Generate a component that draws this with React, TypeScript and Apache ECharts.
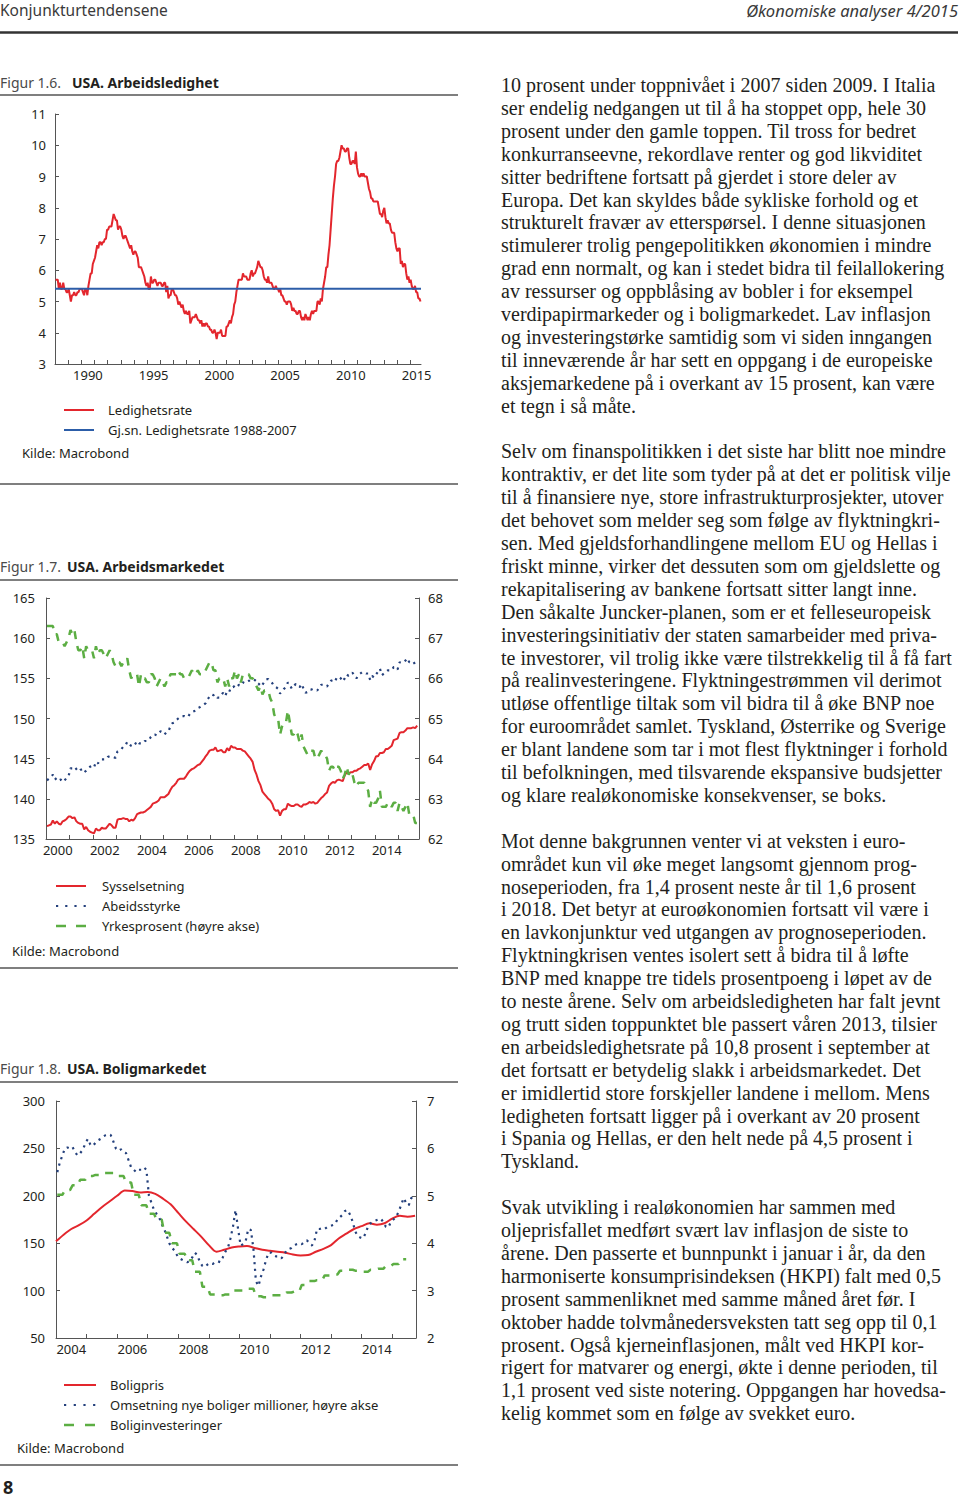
import React, { useEffect, useRef } from "react";
import * as echarts from "echarts";

const FONT = "'Noto Sans', sans-serif";
const SERIF = "'Liberation Serif', serif";
const TXT = "#231f20";
const AXIS = "#555555";
const RED = "#e3262d";
const BLUE = "#2c5da8";
const NAVY = "#24407c";
const GREEN = "#5cae43";
const DOTTED = [2.2, 4.5];
const DASHED = [8, 7];

// ---------- Figur 1.6 ----------
const unempStart = 1988;
const unempRate = [
  5.7, 5.7, 5.7, 5.4, 5.6, 5.4, 5.4, 5.6, 5.4, 5.4, 5.3, 5.3,
  5.4, 5.2, 5.0, 5.2, 5.2, 5.3, 5.2, 5.2, 5.3, 5.3, 5.4, 5.4,
  5.4, 5.3, 5.2, 5.4, 5.4, 5.2, 5.5, 5.7, 5.9, 5.9, 6.2, 6.3,
  6.4, 6.6, 6.8, 6.7, 6.9, 6.9, 6.8, 6.9, 6.9, 7.0, 7.0, 7.3,
  7.3, 7.4, 7.4, 7.4, 7.6, 7.8, 7.7, 7.6, 7.6, 7.3, 7.4, 7.4,
  7.3, 7.1, 7.0, 7.1, 7.1, 7.0, 6.9, 6.8, 6.7, 6.8, 6.6, 6.5,
  6.6, 6.6, 6.5, 6.4, 6.1, 6.1, 6.1, 6.0, 5.9, 5.8, 5.6, 5.5,
  5.6, 5.4, 5.4, 5.8, 5.6, 5.6, 5.7, 5.7, 5.6, 5.5, 5.6, 5.6,
  5.6, 5.5, 5.5, 5.6, 5.6, 5.3, 5.5, 5.1, 5.2, 5.2, 5.4, 5.4,
  5.3, 5.2, 5.2, 5.1, 4.9, 5.0, 4.9, 4.8, 4.9, 4.7, 4.6, 4.7,
  4.6, 4.6, 4.7, 4.3, 4.4, 4.5, 4.5, 4.5, 4.6, 4.5, 4.4, 4.4,
  4.3, 4.4, 4.2, 4.3, 4.2, 4.3, 4.3, 4.2, 4.2, 4.1, 4.1, 4.0,
  4.0, 4.1, 4.0, 3.8, 4.0, 4.0, 4.0, 4.1, 3.9, 3.9, 3.9, 3.9,
  4.2, 4.2, 4.3, 4.4, 4.3, 4.5, 4.6, 4.9, 5.0, 5.3, 5.5, 5.7,
  5.7, 5.7, 5.7, 5.9, 5.8, 5.8, 5.8, 5.7, 5.7, 5.7, 5.9, 6.0,
  5.8, 5.9, 5.9, 6.0, 6.1, 6.3, 6.2, 6.1, 6.1, 6.0, 5.8, 5.7,
  5.7, 5.6, 5.8, 5.6, 5.6, 5.6, 5.5, 5.4, 5.4, 5.5, 5.4, 5.4,
  5.3, 5.4, 5.2, 5.2, 5.1, 5.0, 5.0, 4.9, 5.0, 5.0, 5.0, 4.9,
  4.7, 4.8, 4.7, 4.7, 4.6, 4.6, 4.7, 4.7, 4.5, 4.4, 4.5, 4.4,
  4.6, 4.5, 4.4, 4.5, 4.4, 4.6, 4.7, 4.6, 4.7, 4.7, 4.7, 5.0,
  5.0, 4.9, 5.1, 5.0, 5.4, 5.6, 5.8, 6.1, 6.1, 6.5, 6.8, 7.3,
  7.8, 8.3, 8.7, 9.0, 9.4, 9.5, 9.5, 9.6, 9.8, 10.0, 9.9, 9.9,
  9.8, 9.8, 9.9, 9.9, 9.6, 9.4, 9.4, 9.5, 9.5, 9.4, 9.8, 9.3,
  9.1, 9.0, 9.0, 9.1, 9.0, 9.1, 9.0, 9.0, 9.0, 8.8, 8.6, 8.5,
  8.3, 8.3, 8.2, 8.2, 8.2, 8.2, 8.2, 8.0, 7.8, 7.8, 7.7, 7.9,
  8.0, 7.7, 7.5, 7.6, 7.5, 7.5, 7.3, 7.2, 7.2, 7.2, 6.9, 6.7,
  6.6, 6.7, 6.7, 6.2, 6.3, 6.1, 6.2, 6.2, 5.9, 5.7, 5.8, 5.6,
  5.7, 5.5, 5.4, 5.4, 5.5, 5.3, 5.3, 5.1, 5.1, 5.0,
];
const unempAvg = 5.41;
const fig16XLabels = [1990, 1995, 2000, 2005, 2010, 2015];

// ---------- Figur 1.7 ----------
const labourStart = 2000;
const employment = [
  136.6, 136.7, 136.8, 137.3, 136.9, 137.2, 136.9, 136.8, 137.2, 137.3, 137.5, 137.8,
  137.8, 137.6, 137.7, 137.2, 137.0, 136.9, 136.9, 136.2, 136.5, 136.1, 135.9, 135.8,
  135.7, 136.3, 136.1, 136.1, 136.4, 136.3, 136.3, 136.6, 136.9, 136.7, 136.4, 136.4,
  137.4, 137.5, 137.5, 137.6, 137.5, 137.5, 137.2, 137.4, 137.3, 137.6, 138.1, 138.2,
  138.3, 138.3, 138.4, 138.6, 138.8, 139.0, 139.4, 139.5, 139.6, 139.8, 140.2, 140.2,
  140.2, 140.4, 140.6, 141.1, 141.5, 141.7, 142.0, 142.4, 142.5, 142.5, 142.5, 142.8,
  143.2, 143.5, 143.7, 143.8, 144.0, 144.2, 144.3, 144.6, 144.9, 145.3, 145.6, 146.0,
  146.1, 146.1, 146.4, 145.9, 146.0, 146.1, 145.8, 145.8, 146.3, 146.0, 146.6, 146.4,
  146.4, 146.2, 146.2, 146.2, 146.0, 145.9, 145.6, 145.3, 145.0, 144.6, 143.6, 143.0,
  142.2, 141.7, 140.9, 140.6, 140.3, 140.0, 139.8, 139.4, 138.7, 138.5, 138.6, 137.9,
  138.5, 138.7, 138.7, 139.4, 139.2, 139.1, 139.1, 139.3, 139.3, 139.1, 139.0, 139.3,
  139.3, 139.4, 139.6, 139.5, 139.6, 139.4, 139.5, 139.8, 140.1, 140.3, 140.6, 140.8,
  141.6, 141.9, 142.1, 142.0, 142.3, 142.4, 142.3, 142.2, 142.9, 143.3, 143.2, 143.3,
  143.3, 143.5, 143.5, 143.7, 143.8, 144.0, 144.2, 144.2, 144.4, 143.6, 144.3, 144.7,
  145.3, 145.3, 145.7, 145.7, 145.8, 146.2, 146.2, 146.4, 146.6, 147.3, 147.4, 147.5,
  148.2, 148.3, 148.3, 148.5, 148.8, 148.8, 148.8, 148.9, 148.8, 149.1,
];
const labourForce = [
  142.3, 142.5, 142.7, 143.0, 142.4, 142.6, 142.3, 142.4, 142.1, 142.3, 142.6, 142.8,
  143.8, 143.8, 144.0, 143.7, 143.4, 143.6, 143.7, 143.3, 143.5, 143.8, 144.0, 144.1,
  143.9, 144.6, 144.4, 144.8, 144.9, 144.9, 144.9, 145.2, 145.3, 145.3, 145.2, 145.1,
  145.9, 146.0, 146.2, 146.5, 146.6, 147.1, 146.8, 146.6, 146.5, 146.8, 147.2, 146.9,
  146.9, 146.9, 147.2, 147.2, 147.3, 147.7, 148.0, 148.0, 147.9, 148.2, 148.4, 148.3,
  148.0, 148.3, 148.4, 149.0, 149.4, 149.5, 149.8, 150.0, 150.2, 150.3, 150.3, 150.2,
  150.2, 150.6, 150.8, 150.9, 151.0, 151.3, 151.4, 151.6, 151.7, 151.9, 152.4, 152.7,
  153.0, 152.9, 153.0, 152.6, 152.6, 153.0, 153.2, 152.8, 153.4, 153.3, 153.9, 153.9,
  154.1, 153.9, 154.2, 154.1, 154.5, 154.4, 154.6, 154.7, 154.7, 154.9, 154.8, 154.6,
  154.2, 154.5, 154.2, 154.6, 154.9, 154.9, 154.6, 154.4, 154.0, 153.9, 153.7, 153.1,
  153.4, 153.7, 153.9, 154.5, 154.2, 153.7, 154.0, 154.3, 154.1, 153.9, 154.3, 153.7,
  153.2, 153.3, 153.6, 153.6, 153.7, 153.6, 153.5, 153.8, 154.2, 154.2, 154.0, 154.0,
  154.4, 154.7, 154.8, 154.6, 155.1, 155.2, 155.0, 154.6, 155.0, 155.5, 155.3, 155.5,
  155.7, 155.3, 155.0, 155.4, 155.6, 155.8, 155.7, 155.6, 155.6, 154.8, 155.3, 155.1,
  155.5, 155.8, 156.2, 155.4, 155.6, 155.8, 156.0, 156.0, 156.0, 156.4, 156.4, 156.1,
  157.0, 156.9, 157.0, 157.2, 157.5, 157.0, 157.1, 157.1, 156.7, 156.8,
];
const participation = [
  67.3, 67.3, 67.3, 67.3, 67.1, 67.1, 66.9, 66.9, 66.9, 66.8, 66.9, 67.0,
  67.2, 67.1, 67.2, 66.9, 66.7, 66.7, 66.8, 66.5, 66.8, 66.7, 66.7, 66.7,
  66.5, 66.8, 66.6, 66.7, 66.7, 66.6, 66.5, 66.6, 66.7, 66.6, 66.4, 66.3,
  66.4, 66.4, 66.3, 66.4, 66.4, 66.5, 66.2, 66.0, 66.1, 66.1, 66.1, 65.8,
  66.1, 66.0, 66.0, 65.9, 65.9, 66.1, 66.1, 66.0, 65.8, 65.9, 66.0, 65.9,
  65.8, 65.9, 65.9, 66.1, 66.1, 66.1, 66.1, 66.2, 66.1, 66.1, 66.0, 66.0,
  66.0, 66.1, 66.2, 66.1, 66.1, 66.2, 66.1, 66.1, 66.1, 66.2, 66.3, 66.4,
  66.4, 66.2, 66.2, 65.9, 66.0, 66.0, 66.0, 65.8, 66.0, 65.8, 66.0, 66.0,
  66.2, 66.0, 66.1, 65.9, 66.1, 66.1, 66.1, 66.1, 66.0, 66.0, 65.9, 65.8,
  65.7, 65.8, 65.6, 65.7, 65.7, 65.7, 65.5, 65.4, 65.1, 65.0, 65.0, 64.6,
  64.8, 64.9, 64.9, 65.2, 64.9, 64.6, 64.6, 64.7, 64.6, 64.4, 64.6, 64.3,
  64.2, 64.1, 64.2, 64.2, 64.2, 64.0, 64.0, 64.1, 64.2, 64.1, 64.1, 64.0,
  63.7, 63.8, 63.8, 63.7, 63.8, 63.8, 63.7, 63.5, 63.6, 63.8, 63.6, 63.7,
  63.6, 63.4, 63.3, 63.4, 63.4, 63.4, 63.4, 63.3, 63.2, 62.8, 63.0, 62.9,
  62.9, 63.0, 63.2, 62.8, 62.8, 62.8, 62.9, 62.9, 62.8, 62.9, 62.9, 62.7,
  62.9, 62.8, 62.7, 62.8, 62.9, 62.6, 62.6, 62.6, 62.4, 62.4,
];
const fig17XLabels = [2000, 2002, 2004, 2006, 2008, 2010, 2012, 2014];

// ---------- Figur 1.8 ----------
const houseStart = 2004;
const housePriceQ = [
  152, 159, 165, 169, 174, 181, 188, 194, 200, 205.5, 205, 203.5,
  204, 202, 197, 191, 182, 173, 165, 157, 148, 141, 143, 145.5,
  146.5, 147, 145, 143, 142, 141, 140, 138, 137, 137.5, 141, 144,
  148, 155, 160, 165, 168, 171, 169.5, 171, 176, 179, 178, 179,
];
const homeSales = [
  5.5, 5.7, 5.85, 6.0, 6.02, 6.0, 6.03, 5.92, 5.85, 5.9, 5.97, 6.1,
  6.2, 6.08, 6.05, 6.12, 6.17, 6.2, 6.25, 6.28, 6.3, 6.28, 6.15, 6.0,
  5.95, 5.98, 5.92, 5.9, 5.75, 5.6, 5.55, 5.5, 5.55, 5.55, 5.6, 5.55,
  5.0, 4.85, 4.7, 4.62, 4.55, 4.4, 4.3, 4.15, 4.0, 3.9, 3.85, 3.75,
  3.68, 3.65, 3.62, 3.6, 3.62, 3.7, 3.8, 3.75, 3.6, 3.52, 3.5, 3.55,
  3.58, 3.56, 3.6, 3.62, 3.6, 3.7, 3.82, 3.9, 4.1, 4.35, 4.7, 4.3,
  3.95, 3.98, 4.05, 4.3, 4.28, 3.9, 3.2, 3.1, 3.3, 3.45, 3.65, 3.8,
  3.8, 3.74, 3.72, 3.72, 3.68, 3.75, 3.85, 3.88, 3.9, 3.95, 3.98, 4.0,
  3.98, 4.02, 4.06, 4.0, 3.95, 4.05, 4.3, 4.3, 4.32, 4.3, 4.34, 4.36,
  4.38, 4.4, 4.5, 4.55, 4.6, 4.68, 4.7, 4.6, 4.45, 4.25, 4.15, 4.12,
  4.1, 4.2, 4.35, 4.42, 4.46, 4.48, 4.5, 4.52, 4.45, 4.35, 4.33, 4.45,
  4.5, 4.55, 4.66, 4.8, 4.95, 4.85, 4.8, 4.95, 5.0,
];
const resInvestQ = [
  201, 206, 211, 217, 221, 222, 224, 224, 221, 214, 201, 190,
  181, 175, 161, 150, 139, 132, 120, 104, 96, 95, 96, 100,
  100, 102, 94, 93, 95, 95, 98, 99, 106, 110, 111, 116,
  117, 121, 122, 121, 120, 122, 123, 126, 128, 133,
];
const fig18XLabels = [2004, 2006, 2008, 2010, 2012, 2014];

// ---------- Legender ----------
const fig16Legend = ["Ledighetsrate", "Gj.sn. Ledighetsrate 1988-2007"];
const fig17Legend = ["Sysselsetning", "Abeidsstyrke", "Yrkesprosent (høyre akse)"];
const fig18Legend = ["Boligpris", "Omsetning nye boliger millioner, høyre akse", "Boliginvesteringer"];

// ---------- Brødtekst ----------
const bodyLines = [
  "10 prosent under toppnivået i 2007 siden 2009. I Italia",
  "ser endelig nedgangen ut til å ha stoppet opp, hele 30",
  "prosent under den gamle toppen. Til tross for bedret",
  "konkurranseevne, rekordlave renter og god likviditet",
  "sitter bedriftene fortsatt på gjerdet i store deler av",
  "Europa. Det kan skyldes både sykliske forhold og et",
  "strukturelt fravær av etterspørsel. I denne situasjonen",
  "stimulerer trolig pengepolitikken økonomien i mindre",
  "grad enn normalt, og kan i stedet bidra til feilallokering",
  "av ressurser og oppblåsing av bobler i for eksempel",
  "verdipapirmarkeder og i boligmarkedet. Lav inflasjon",
  "og investeringstørke samtidig som vi siden inngangen",
  "til inneværende år har sett en oppgang i de europeiske",
  "aksjemarkedene på i overkant av 15 prosent, kan være",
  "et tegn i så måte.",
  "",
  "Selv om finanspolitikken i det siste har blitt noe mindre",
  "kontraktiv, er det lite som tyder på at det er politisk vilje",
  "til å finansiere nye, store infrastrukturprosjekter, utover",
  "det behovet som melder seg som følge av flyktningkri-",
  "sen. Med gjeldsforhandlingene mellom EU og Hellas i",
  "friskt minne, virker det dessuten som om gjeldslette og",
  "rekapitalisering av bankene fortsatt sitter langt inne.",
  "Den såkalte Juncker-planen, som er et felleseuropeisk",
  "investeringsinitiativ der staten samarbeider med priva-",
  "te investorer, vil trolig ikke være tilstrekkelig til å få fart",
  "på realinvesteringene. Flyktningestrømmen vil derimot",
  "utløse offentlige tiltak som vil bidra til å øke BNP noe",
  "for euroområdet samlet. Tyskland, Østerrike og Sverige",
  "er blant landene som tar i mot flest flyktninger i forhold",
  "til befolkningen, med tilsvarende ekspansive budsjetter",
  "og klare realøkonomiske konsekvenser, se boks.",
  "",
  "Mot denne bakgrunnen venter vi at veksten i euro-",
  "området kun vil øke meget langsomt gjennom prog-",
  "noseperioden, fra 1,4 prosent neste år til 1,6 prosent",
  "i 2018. Det betyr at euroøkonomien fortsatt vil være i",
  "en lavkonjunktur ved utgangen av prognoseperioden.",
  "Flyktningkrisen ventes isolert sett å bidra til å løfte",
  "BNP med knappe tre tidels prosentpoeng i løpet av de",
  "to neste årene. Selv om arbeidsledigheten har falt jevnt",
  "og trutt siden toppunktet ble passert våren 2013, tilsier",
  "en arbeidsledighetsrate på 10,8 prosent i september at",
  "det fortsatt er betydelig slakk i arbeidsmarkedet. Det",
  "er imidlertid store forskjeller landene i mellom. Mens",
  "ledigheten fortsatt ligger på i overkant av 20 prosent",
  "i Spania og Hellas, er den helt nede på 4,5 prosent i",
  "Tyskland.",
  "",
  "Svak utvikling i realøkonomien har sammen med",
  "oljeprisfallet medført svært lav inflasjon de siste to",
  "årene. Den passerte et bunnpunkt i januar i år, da den",
  "harmoniserte konsumprisindeksen (HKPI) falt med 0,5",
  "prosent sammenliknet med samme måned året før. I",
  "oktober hadde tolvmånedersveksten tatt seg opp til 0,1",
  "prosent. Også kjerneinflasjonen, målt ved HKPI kor-",
  "rigert for matvarer og energi, økte i denne perioden, til",
  "1,1 prosent ved siste notering. Oppgangen har hovedsa-",
  "kelig kommet som en følge av svekket euro.",
];

// ---------- helpers ----------
const monthly = (start: number, vals: number[]) =>
  vals.map((v, i) => [start + (i + 0.5) / 12, v]);
const quarterlyAsMonths = (start: number, vals: number[]) =>
  vals.flatMap((v, q) => [0, 1, 2].map((j) => [start + (3 * q + j + 0.5) / 12, v]));
const intsBetween = (a: number, b: number) => {
  const out: number[] = [];
  for (let y = a; y <= b; y++) out.push(y);
  return out;
};

function xAxisCfg(grid: number, min: number, max: number, labels: number[]) {
  return {
    type: "value",
    gridIndex: grid,
    min,
    max,
    axisLine: { show: true, onZero: false, lineStyle: { color: AXIS, width: 1 } },
    axisTick: {
      show: true,
      inside: true,
      length: 4,
      lineStyle: { color: AXIS, width: 1 },
      customValues: intsBetween(Math.ceil(min), Math.floor(max)),
    },
    axisLabel: {
      customValues: labels.map((l) => l + 0.5),
      formatter: (v: number) => String(Math.floor(v)),
      fontSize: 13,
      color: TXT,
      fontFamily: FONT,
      margin: 4,
    },
    splitLine: { show: false },
  };
}

function yAxisCfg(
  grid: number,
  min: number,
  max: number,
  interval: number,
  position: string,
  margin: number
) {
  return {
    type: "value",
    gridIndex: grid,
    min,
    max,
    interval,
    position,
    axisLine: { show: true, onZero: false, lineStyle: { color: AXIS, width: 1 } },
    axisTick: { show: true, inside: true, length: 4, lineStyle: { color: AXIS, width: 1 } },
    axisLabel: { fontSize: 13, color: TXT, fontFamily: FONT, margin },
    splitLine: { show: false },
  };
}

const txt = (
  x: number,
  y: number,
  text: string,
  opts: { size?: number; weight?: string; italic?: boolean; align?: string; fill?: string; family?: string } = {}
) => ({
  type: "text",
  x,
  y,
  silent: true,
  style: {
    text,
    fontSize: opts.size ?? 13,
    fontWeight: opts.weight ?? "normal",
    fontStyle: opts.italic ? "italic" : "normal",
    fontFamily: opts.family ?? FONT,
    fill: opts.fill ?? TXT,
    align: opts.align ?? "left",
    verticalAlign: "middle",
    textAlign: opts.align ?? "left",
    textVerticalAlign: "middle",
  },
});

const hline = (x1: number, x2: number, y: number, h: number, fill: string) => ({
  type: "rect",
  silent: true,
  shape: { x: x1, y: y - h / 2, width: x2 - x1, height: h },
  style: { fill },
});

const legendKey = (x1: number, x2: number, y: number, color: string, width: number, dash?: number[]) => ({
  type: "line",
  silent: true,
  shape: { x1, y1: y, x2, y2: y },
  style: { stroke: color, lineWidth: width, lineDash: dash ?? null, fill: null },
});

export default function App() {
  const ref = useRef<HTMLDivElement>(null);

  useEffect(() => {
    if (!ref.current) return;
    const chart = echarts.init(ref.current, undefined, { renderer: "svg" });

    const graphics: any[] = [
      txt(0, 10, "Konjunkturtendensene", { size: 15.5, fill: "#3a3a3a" }),
      txt(958, 10, "Økonomiske analyser 4/2015", { size: 16.5, italic: true, align: "right", fill: "#3a3a3a" }),
      hline(0, 958, 32.5, 2.5, "#333333"),

      txt(0, 82, "Figur 1.6.", { size: 14, fill: "#4a4a4a" }),
      txt(72, 82, "USA. Arbeidsledighet", { size: 14, weight: "bold" }),
      hline(0, 458, 95, 1.5, "#555555"),
      legendKey(64, 94, 410, RED, 2),
      legendKey(64, 94, 430, BLUE, 2),
      txt(108, 410, fig16Legend[0]),
      txt(108, 430, fig16Legend[1]),
      txt(22, 453, "Kilde: Macrobond", { size: 13 }),
      hline(0, 458, 484, 1.5, "#555555"),

      txt(0, 566, "Figur 1.7.", { size: 14, fill: "#4a4a4a" }),
      txt(67, 566, "USA. Arbeidsmarkedet", { size: 14, weight: "bold" }),
      hline(0, 458, 580, 1.5, "#555555"),
      legendKey(56, 86, 886, RED, 2),
      legendKey(56, 86, 906, NAVY, 2.2, [2.2, 7]),
      legendKey(56, 86, 926, GREEN, 2.5, [10, 10]),
      txt(102, 886, fig17Legend[0]),
      txt(102, 906, fig17Legend[1]),
      txt(102, 926, fig17Legend[2]),
      txt(12, 951, "Kilde: Macrobond", { size: 13 }),
      hline(0, 458, 968, 1.5, "#555555"),

      txt(0, 1068, "Figur 1.8.", { size: 14, fill: "#4a4a4a" }),
      txt(67, 1068, "USA. Boligmarkedet", { size: 14, weight: "bold" }),
      hline(0, 458, 1082, 1.5, "#555555"),
      legendKey(64, 96, 1385, RED, 2),
      legendKey(64, 96, 1405, NAVY, 2.2, [2.2, 7.5]),
      legendKey(64, 96, 1425, GREEN, 2.5, [10, 11]),
      txt(110, 1385, fig18Legend[0]),
      txt(110, 1405, fig18Legend[1]),
      txt(110, 1425, fig18Legend[2]),
      txt(17, 1448, "Kilde: Macrobond", { size: 13 }),
      hline(0, 458, 1465, 1.5, "#555555"),

      txt(3, 1487, "8", { size: 18, weight: "bold" }),
    ];
    bodyLines.forEach((line, i) => {
      if (line) graphics.push(txt(501, 85 + 22.9 * i, line, { size: 20, family: SERIF }));
    });

    const option: any = {
      animation: false,
      backgroundColor: "#ffffff",
      grid: [
        { left: 55, top: 114, width: 366, height: 250, containLabel: false, outerBoundsMode: "none" },
        { left: 46, top: 598, width: 373, height: 241, containLabel: false, outerBoundsMode: "none" },
        { left: 56, top: 1101, width: 360, height: 237, containLabel: false, outerBoundsMode: "none" },
      ],
      xAxis: [
        xAxisCfg(0, 1988, 2015.83, fig16XLabels),
        xAxisCfg(1, 2000, 2015.87, fig17XLabels),
        xAxisCfg(2, 2004, 2015.78, fig18XLabels),
      ],
      yAxis: [
        yAxisCfg(0, 3, 11, 1, "left", 9),
        yAxisCfg(1, 135, 165, 5, "left", 11),
        yAxisCfg(1, 62, 68, 1, "right", 9),
        yAxisCfg(2, 50, 300, 50, "left", 11),
        yAxisCfg(2, 2, 7, 1, "right", 11),
      ],
      series: [
        {
          name: fig16Legend[0],
          type: "line",
          xAxisIndex: 0,
          yAxisIndex: 0,
          data: monthly(unempStart, unempRate),
          symbol: "none",
          color: RED,
          lineStyle: { color: RED, width: 2 },
        },
        {
          name: fig16Legend[1],
          type: "line",
          xAxisIndex: 0,
          yAxisIndex: 0,
          data: [
            [1988, unempAvg],
            [2015.83, unempAvg],
          ],
          symbol: "none",
          color: BLUE,
          lineStyle: { color: BLUE, width: 2 },
        },
        {
          name: fig17Legend[0],
          type: "line",
          xAxisIndex: 1,
          yAxisIndex: 1,
          data: monthly(labourStart, employment),
          symbol: "none",
          color: RED,
          lineStyle: { color: RED, width: 2 },
        },
        {
          name: fig17Legend[1],
          type: "line",
          xAxisIndex: 1,
          yAxisIndex: 1,
          data: monthly(labourStart, labourForce),
          symbol: "none",
          color: NAVY,
          lineStyle: { color: NAVY, width: 2.2, type: DOTTED },
        },
        {
          name: fig17Legend[2],
          type: "line",
          xAxisIndex: 1,
          yAxisIndex: 2,
          data: monthly(labourStart, participation),
          symbol: "none",
          color: GREEN,
          lineStyle: { color: GREEN, width: 2.5, type: DASHED },
        },
        {
          name: fig18Legend[0],
          type: "line",
          xAxisIndex: 2,
          yAxisIndex: 3,
          data: housePriceQ.map((v, q) => [houseStart + q / 4, v]),
          smooth: 0.3,
          symbol: "none",
          color: RED,
          lineStyle: { color: RED, width: 2 },
        },
        {
          name: fig18Legend[1],
          type: "line",
          xAxisIndex: 2,
          yAxisIndex: 4,
          data: monthly(houseStart, homeSales),
          symbol: "none",
          color: NAVY,
          lineStyle: { color: NAVY, width: 2.2, type: DOTTED },
        },
        {
          name: fig18Legend[2],
          type: "line",
          xAxisIndex: 2,
          yAxisIndex: 3,
          data: quarterlyAsMonths(houseStart, resInvestQ),
          symbol: "none",
          color: GREEN,
          lineStyle: { color: GREEN, width: 2.5, type: DASHED },
        },
      ],
      graphic: { elements: graphics },
    };

    chart.setOption(option);
    return () => chart.dispose();
  }, []);

  return (
    <div
      ref={ref}
      style={{ position: "absolute", left: 0, top: 0, width: 960, height: 1499, background: "#fff" }}
    />
  );
}
